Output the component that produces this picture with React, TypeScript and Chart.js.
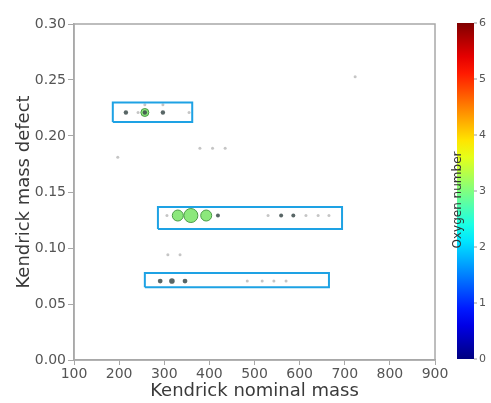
import React, { useEffect, useRef } from "react";
import { Chart, registerables } from "chart.js";

Chart.register(...registerables);

// ---- data ----
const greenMass = [257, 330, 359, 393];
const greenKmd = [0.221, 0.129, 0.129, 0.129];
const greenSize = [4, 5.5, 7, 5.5];

const darkMass = [215, 257, 297, 419, 559, 586, 291, 317, 346];
const darkKmd = [0.221, 0.221, 0.221, 0.129, 0.129, 0.129, 0.0705, 0.0705, 0.0705];
const darkSize = [2.2, 2.2, 2.2, 2, 2, 2, 2.4, 2.8, 2.4];

const faintMass = [242, 257, 297, 355, 379, 407, 435, 306, 530, 614, 641, 665, 484, 517, 543, 570, 308, 335, 197, 723];
const faintKmd = [0.221, 0.228, 0.228, 0.221, 0.189, 0.189, 0.189, 0.129, 0.129, 0.129, 0.129, 0.129, 0.0705, 0.0705, 0.0705, 0.0705, 0.094, 0.094, 0.181, 0.253];

const boxXMin = [186, 286, 257];
const boxXMax = [362, 694, 665];
const boxYMin = [0.2125, 0.117, 0.065];
const boxYMax = [0.230, 0.1366, 0.0777];

const xTicks = [100, 200, 300, 400, 500, 600, 700, 800, 900];
const yTicks = [0, 0.05, 0.1, 0.15, 0.2, 0.25, 0.3];
const oxygenTicks = [0, 1, 2, 3, 4, 5, 6];

function jet(t: number): string {
  const c = (v: number) => Math.round(255 * Math.max(0, Math.min(1, v)));
  const r = c(1.5 - Math.abs(4 * t - 3));
  const g = c(1.5 - Math.abs(4 * t - 2));
  const b = c(1.5 - Math.abs(4 * t - 1));
  return `rgb(${r},${g},${b})`;
}

const frameColor = "#a8a8a8";
const textColor = "#555";
const titleColor = "#3a3a3a";

export default function App() {
  const ref = useRef<HTMLCanvasElement | null>(null);
  useEffect(() => {
    if (!ref.current) return;
    const boxDatasets = boxXMin.map((_, i) => ({
      type: "line" as const,
      data: [
        { x: boxXMin[i], y: boxYMin[i] },
        { x: boxXMax[i], y: boxYMin[i] },
        { x: boxXMax[i], y: boxYMax[i] },
        { x: boxXMin[i], y: boxYMax[i] },
        { x: boxXMin[i], y: boxYMin[i] },
      ],
      borderColor: "#1ea2e4",
      borderWidth: 2,
      pointRadius: 0,
      showLine: true,
      fill: false,
      tension: 0,
      order: 0,
    }));

    const colorbarPlugin = {
      id: "colorbar",
      afterDraw(chart: any) {
        const ctx = chart.ctx;
        const x0 = 457, x1 = 474, top = 23, bottom = 359;
        const grad = ctx.createLinearGradient(0, bottom, 0, top);
        for (let i = 0; i <= 20; i++) grad.addColorStop(i / 20, jet(i / 20));
        ctx.save();
        ctx.fillStyle = grad;
        ctx.fillRect(x0, top, x1 - x0, bottom - top);
        ctx.fillStyle = textColor;
        ctx.font = "11px 'DejaVu Sans'";
        ctx.textBaseline = "middle";
        ctx.textAlign = "left";
        oxygenTicks.forEach((v) => {
          const y = bottom - (v / 6) * (bottom - top);
          ctx.beginPath();
          ctx.strokeStyle = "#999";
          ctx.lineWidth = 1;
          ctx.moveTo(x1, y);
          ctx.lineTo(x1 + 3, y);
          ctx.stroke();
          ctx.fillText(String(v), x1 + 5, y);
        });
        ctx.translate(458, 200);
        ctx.rotate(-Math.PI / 2);
        ctx.textAlign = "center";
        ctx.fillStyle = "#333";
        ctx.font = "12px 'DejaVu Sans'";
        ctx.fillText("Oxygen number", 0, 0);
        ctx.restore();

        // frame
        const a = chart.chartArea;
        ctx.save();
        ctx.strokeStyle = frameColor;
        ctx.lineWidth = 1.5;
        ctx.strokeRect(a.left, a.top, a.right - a.left, a.bottom - a.top);
        ctx.restore();
      },
    };

    const chart = new Chart(ref.current, {
      type: "scatter",
      data: {
        datasets: [
          ...boxDatasets,
          {
            data: faintMass.map((x, i) => ({ x, y: faintKmd[i] })),
            backgroundColor: "rgba(150,150,150,0.55)",
            borderWidth: 0,
            pointRadius: 1.5,
            order: 3,
          },
          {
            data: greenMass.map((x, i) => ({ x, y: greenKmd[i] })),
            backgroundColor: "rgba(127,230,110,0.9)",
            borderColor: "#4b9a48",
            borderWidth: 1,
            pointRadius: greenSize,
            order: 2,
          },
          {
            data: darkMass.map((x, i) => ({ x, y: darkKmd[i] })),
            backgroundColor: "rgba(60,75,75,0.85)",
            borderWidth: 0,
            pointRadius: darkSize,
            order: 1,
          },
        ] as any,
      },
      options: {
        animation: false,
        responsive: false,
        maintainAspectRatio: false,
        events: [],
        layout: { padding: { left: 0, top: 24, right: 56, bottom: 0 } },
        plugins: { legend: { display: false }, tooltip: { enabled: false } },
        scales: {
          x: {
            type: "linear",
            min: 100,
            max: 900,
            afterBuildTicks: (s: any) => {
              s.ticks = xTicks.map((v) => ({ value: v }));
            },
            afterFit: (s: any) => {
              s.height = 43;
            },
            grid: { drawOnChartArea: false, tickLength: 5, color: frameColor },
            border: { color: frameColor, width: 1.5 },
            ticks: { color: textColor, font: { family: "DejaVu Sans", size: 14 }, padding: 1, maxRotation: 0 },
            title: { display: true, text: "Kendrick nominal mass", color: titleColor, font: { family: "DejaVu Sans", size: 18 }, padding: { top: 0, bottom: 1 } },
          },
          y: {
            type: "linear",
            min: 0,
            max: 0.3,
            afterBuildTicks: (s: any) => {
              s.ticks = yTicks.map((v) => ({ value: v }));
            },
            afterFit: (s: any) => {
              s.width = 74;
            },
            grid: { drawOnChartArea: false, tickLength: 6, color: frameColor },
            border: { color: frameColor, width: 1.5 },
            ticks: { color: textColor, font: { family: "DejaVu Sans", size: 14 }, padding: 2, callback: (v: any) => Number(v).toFixed(2) },
            title: { display: true, text: "Kendrick mass defect", color: titleColor, font: { family: "DejaVu Sans", size: 18 }, padding: { top: 14, bottom: 0 } },
          },
        },
      },
      plugins: [colorbarPlugin],
    } as any);
    return () => chart.destroy();
  }, []);

  return (
    <div style={{ position: "fixed", left: 0, top: 0, width: 491, height: 403, background: "#fff" }}>
      <canvas ref={ref} width={491} height={403} style={{ width: 491, height: 403, display: "block" }} />
    </div>
  );
}
